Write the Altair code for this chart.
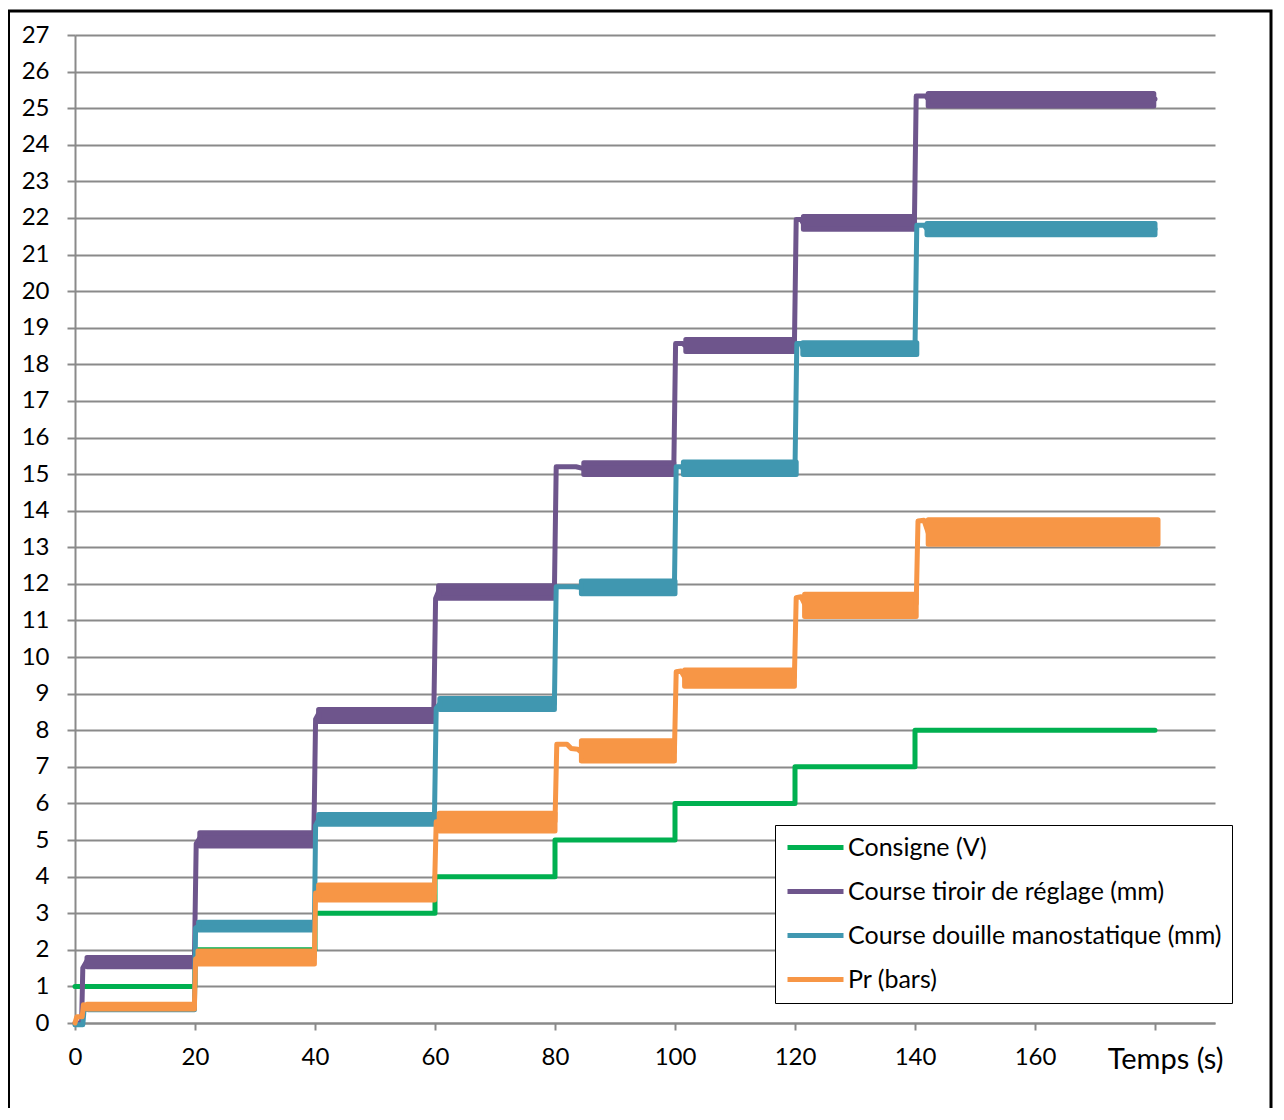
import altair as alt
import pandas as pd

SERIES = ["Consigne (V)", "Course tiroir de réglage (mm)",
          "Course douille manostatique (mm)", "Pr (bars)"]
COLORS = ["#00B050", "#6E558C", "#4097B0", "#F79646"]

# ---- step traces (time s, value) ----
consigne_t = [0, 20, 20, 40, 40, 60, 60, 80, 80, 100, 100, 120, 120, 140, 140, 180]
consigne_v = [1, 1, 2, 2, 3, 3, 4, 4, 5, 5, 6, 6, 7, 7, 8, 8]

tiroir_t = [0, 1.1, 1.3, 2.0, 19.9, 20.2, 20.8, 39.8, 40.1, 40.6, 59.8, 60.1, 60.6,
            79.9, 80.2, 83.5, 84.8, 99.8, 100.1, 101.3, 101.8, 119.9, 120.2, 121.0,
            121.4, 139.9, 140.2, 141.8, 142.2, 180]
tiroir_v = [0, 0, 1.5, 1.7, 1.7, 4.9, 5.05, 5.05, 8.3, 8.45, 8.45, 11.6, 11.8,
            11.8, 15.2, 15.2, 15.15, 15.15, 18.57, 18.57, 18.5, 18.5, 21.96, 21.96,
            21.85, 21.85, 25.33, 25.33, 25.25, 25.25]

douille_t = [0, 1.3, 1.5, 2.2, 19.9, 20.1, 20.6, 39.9, 40.1, 40.6, 59.9, 60.2, 60.8,
             79.9, 80.2, 83.3, 84.4, 99.9, 100.2, 101.0, 101.4, 120.0, 120.3, 121.0,
             121.3, 140.0, 140.3, 141.5, 142.0, 180]
douille_v = [-0.05, -0.05, 0.35, 0.4, 0.4, 2.6, 2.65, 2.65, 5.4, 5.55, 5.55, 8.6, 8.72,
             8.72, 11.92, 11.92, 11.9, 11.9, 15.2, 15.2, 15.15, 15.15, 18.57, 18.57,
             18.45, 18.45, 21.8, 21.8, 21.7, 21.7]

pr_t = [0, 0.3, 0.5, 1.2, 1.4, 2.0, 19.9, 20.1, 20.5, 39.9, 40.1, 40.6, 59.9, 60.2,
        60.7, 80.0, 80.3, 82.0, 82.7, 83.8, 84.4, 99.9, 100.2, 101.0, 101.6, 119.9,
        120.2, 121.0, 121.6, 140.2, 140.5, 141.5, 142.2, 180]
pr_v = [0, 0.17, 0.17, 0.17, 0.5, 0.45, 0.45, 1.75, 1.8, 1.8, 3.55, 3.55, 3.55, 5.5,
        5.5, 5.5, 7.62, 7.62, 7.5, 7.48, 7.4, 7.4, 9.6, 9.62, 9.45, 9.45, 11.62,
        11.65, 11.45, 11.45, 13.72, 13.74, 13.4, 13.4]

# ---- oscillation bands on each plateau (start, end, min, max) ----
tiroir_b0 = [2.0, 20.8, 40.6, 60.6, 84.8, 101.8, 121.4, 142.2]
tiroir_b1 = [19.8, 39.8, 59.8, 79.8, 99.8, 119.9, 139.9, 179.8]
tiroir_lo = [1.54, 4.84, 8.24, 11.61, 14.99, 18.35, 21.69, 25.06]
tiroir_hi = [1.79, 5.20, 8.57, 11.95, 15.31, 18.68, 22.04, 25.40]

douille_b0 = [2.2, 20.6, 40.6, 60.8, 84.4, 101.4, 121.3, 142.0]
douille_b1 = [19.9, 39.8, 59.9, 79.9, 100.0, 120.2, 140.3, 180.0]
douille_lo = [0.36, 2.54, 5.43, 8.57, 11.73, 14.99, 18.27, 21.54]
douille_hi = [0.45, 2.75, 5.70, 8.87, 12.08, 15.33, 18.59, 21.85]

pr_b0 = [2.0, 20.5, 40.6, 60.7, 84.4, 101.6, 121.6, 142.2]
pr_b1 = [19.9, 39.9, 59.9, 80.0, 99.9, 119.9, 140.2, 180.5]
pr_lo = [0.38, 1.61, 3.36, 5.25, 7.16, 9.20, 11.11, 13.08]
pr_hi = [0.51, 1.97, 3.77, 5.73, 7.71, 9.65, 11.72, 13.75]

X_TICKS = [0, 20, 40, 60, 80, 100, 120, 140, 160, 180]
Y_TICKS = list(range(0, 28))

FONT = "Lato"
GRID = "#8a8a8a"

traces = [(consigne_t, consigne_v), (tiroir_t, tiroir_v),
          (douille_t, douille_v), (pr_t, pr_v)]
bands = [None, (tiroir_b0, tiroir_b1, tiroir_lo, tiroir_hi),
         (douille_b0, douille_b1, douille_lo, douille_hi),
         (pr_b0, pr_b1, pr_lo, pr_hi)]

color_scale = alt.Scale(domain=SERIES, range=COLORS)
legend = alt.Legend(
    title=None, orient="none", legendX=700, legendY=790,
    symbolType="stroke", symbolSize=3136, symbolStrokeWidth=5,
    clipHeight=25, rowPadding=18, padding=10, labelOffset=2,
    labelFont=FONT, labelFontSize=25, labelColor="black",
    strokeColor="black", fillColor="white", labelLimit=600,
)

x_scale = alt.Scale(domain=[0, 190], nice=False, zero=False)
x_axis = alt.Axis(values=X_TICKS, grid=False, tickSize=7,
                  labelExpr="datum.value <= 160 ? datum.label : ''",
                  title="Temps (s)", titleAnchor="end", titleAlign="right",
                  titleBaseline="alphabetic", titleX=1148, titleY=45,
                  titleFont=FONT, titleFontSize=29, titleFontWeight="normal",
                  titleColor="black", labelPadding=15, labelOverlap=False,
                  labelFlush=False)
y_scale = alt.Scale(domain=[0, 27], nice=False, zero=False)
y_axis = alt.Axis(values=Y_TICKS, grid=True, tickSize=8, labelPadding=18,
                  title=None, labelOverlap=False, labelFlush=False)

border = alt.Chart(alt.Data(values=[{"a": 1}])).mark_rect(
    fillOpacity=0, stroke="black", strokeWidth=3
).encode(x=alt.value(-66.5), x2=alt.value(1196), y=alt.value(-24), y2=alt.value(1090))

layers = [border]
for i, name in enumerate(SERIES):
    t, v = traces[i]
    df = pd.DataFrame({"t": t, "v": v, "i": range(len(t)), "series": name})
    line = alt.Chart(df).mark_line(strokeWidth=5, strokeJoin="round", strokeCap="round").encode(
        x=alt.X("t:Q", scale=x_scale, axis=x_axis),
        y=alt.Y("v:Q", scale=y_scale, axis=y_axis),
        color=alt.Color("series:N", scale=color_scale, legend=legend),
        order=alt.Order("i:Q"),
    )
    layers.append(line)
    if bands[i] is not None:
        b0, b1, lo, hi = bands[i]
        bdf = pd.DataFrame({"t": b0, "t1": b1, "v": lo, "v1": hi, "series": name})
        rect = alt.Chart(bdf).mark_rect(strokeWidth=5, strokeJoin="round").encode(
            x=alt.X("t:Q", scale=x_scale, axis=x_axis), x2="t1:Q",
            y=alt.Y("v:Q", scale=y_scale, axis=y_axis), y2="v1:Q",
            color=alt.Color("series:N", scale=color_scale, legend=legend),
            stroke=alt.Stroke("series:N", scale=color_scale, legend=None),
        )
        layers.append(rect)

chart = alt.layer(*layers).properties(
    width=1140, height=988, autosize="none",
    padding={"left": 67, "top": 27, "right": 58, "bottom": 85},
    background="white",
).configure_view(stroke=None).configure_axis(
    labelFont=FONT, labelFontSize=24, labelColor="black",
    domainColor=GRID, tickColor=GRID, gridColor=GRID,
    domainWidth=2, tickWidth=2, gridWidth=2,
)

chart.save("out.html", embed_options={"renderer": "svg", "actions": False})
